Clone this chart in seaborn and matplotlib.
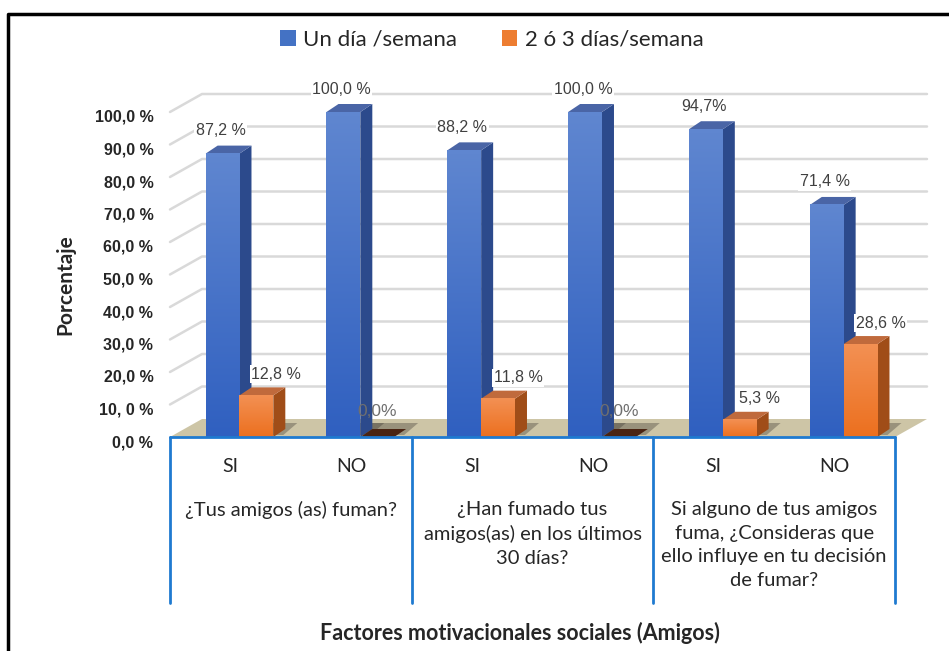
import numpy as np
import pandas as pd
import matplotlib
matplotlib.use("Agg")
import matplotlib.pyplot as plt
import matplotlib.transforms as mtrans
from matplotlib.patches import Polygon
from matplotlib.lines import Line2D
from matplotlib.colors import LinearSegmentedColormap
import seaborn as sns

# datos
preguntas = ["¿Tus amigos (as) fuman?",
             "¿Han fumado tus\namigos(as) en los últimos\n30 días?",
             "Si alguno de tus amigos\nfuma, ¿Consideras que\nello influye en tu decisión\nde fumar?"]
respuestas = ["SI", "NO", "SI", "NO", "SI", "NO"]
un_dia = [87.2, 100.0, 88.2, 100.0, 94.7, 71.4]
dos_tres = [12.8, 0.0, 11.8, 0.0, 5.3, 28.6]
etiq_un = ["87,2 %", "100,0 %", "88,2 %", "100,0 %", "94,7%", "71,4 %"]
etiq_dos = ["12,8 %", "0,0%", "11,8 %", "0,0%", "5,3 %", "28,6 %"]
series = ["Un día /semana", "2 ó 3 días/semana"]
yticks = [0, 10, 20, 30, 40, 50, 60, 70, 80, 90, 100]
ytick_lab = ["0,0 %", "10, 0 %", "20,0 %", "30,0 %", "40,0 %", "50,0 %",
             "60,0 %", "70,0 %", "80,0 %", "90,0 %", "100,0 %"]

claves = [f"{i}_{r}" for i, r in enumerate(respuestas)]
df = pd.DataFrame({
    "clave": claves * 2,
    "valor": un_dia + dos_tres,
    "serie": [series[0]] * 6 + [series[1]] * 6,
})

azul, naranja = "#4472c4", "#ed7d31"
sns.set_style("white")
plt.rcParams["font.family"] = ["Liberation Sans", "DejaVu Sans"]

fig = plt.figure(figsize=(9.49, 6.51), dpi=100)
W, H = 949, 651
ax = fig.add_axes([170 / W, (H - 437) / H, 725 / W, 325 / H])

sns.barplot(data=df, x="clave", y="valor", hue="serie", palette=[azul, naranja],
            width=0.56, saturation=1, ax=ax, zorder=3, linewidth=0)
handles, labels = ax.get_legend_handles_labels()
ax.get_legend().remove()
barras_azul = list(ax.containers[0])
barras_nar = list(ax.containers[1])

xlim = (-0.575, 5.425)
ax.set_xlim(*xlim)
ax.set_ylim(0, 100)
sns.despine(ax=ax, left=True, bottom=True)
ax.set_xlabel("")
ax.set_ylabel("")
ax.set_xticks([])
ax.set_yticks(yticks)
ax.set_yticklabels(ytick_lab, fontweight="bold", fontsize=11.5)
ax.tick_params(axis="y", length=0, pad=12)
for t in ax.get_yticklabels():
    t.set_transform(t.get_transform() + mtrans.ScaledTranslation(0, -4 / 100, fig.dpi_scale_trans))

fig.canvas.draw()
ident = mtrans.IdentityTransform()
to_px = ax.transData.transform

# pared del fondo: cuadrícula y suelo desplazados
fdx, fdy = 32, 18
for v in yticks[1:]:
    (xl, yv), (xr, _) = to_px([(xlim[0], v), (xlim[1], v)])
    ax.add_line(Line2D([xl, xl + fdx, xr + fdx], [yv, yv + fdy, yv + fdy],
                       transform=ident, color="#d9d9d9", lw=1.8, zorder=0.5, clip_on=False))
(xl, y0), (xr, _) = to_px([(xlim[0], 0), (xlim[1], 0)])
ax.add_patch(Polygon([(xl, y0), (xr, y0), (xr + fdx, y0 + fdy), (xl + fdx, y0 + fdy)],
                     closed=True, transform=ident, facecolor="#cdc5a6", edgecolor="none",
                     zorder=0.8, clip_on=False))

# barras con profundidad
bdx, bdy = 12, 8
caras = {azul: ("#4a65a6", "#2c4a8c", ["#3060c0", "#5f86d0"]),
         naranja: ("#c06a3c", "#a04d18", ["#ec701f", "#f39053"])}
for col, grupo in [(azul, barras_azul), (naranja, barras_nar)]:
    top_c, side_c, grad = caras[col]
    cmap = LinearSegmentedColormap.from_list("g", grad)
    for p in grupo:
        x0, w, h = p.get_x(), p.get_width(), p.get_height()
        (a, b), (c, d) = to_px([(x0, 0), (x0 + w, h)])
        # sombra en el suelo
        ax.add_patch(Polygon([(a + 4, b + 2), (c + 10, b + 2), (c + bdx + 12, b + bdy + 6),
                              (a + bdx, b + bdy + 6)],
                             closed=True, transform=ident, facecolor="#3a3530", alpha=0.35,
                             edgecolor="none", zorder=0.9, clip_on=False))
        if h <= 0:
            ax.add_patch(Polygon([(a, b), (c, b), (c + bdx, b + bdy), (a + bdx, b + bdy)],
                                 closed=True, transform=ident, facecolor="#4a2412",
                                 edgecolor="none", zorder=2.5, clip_on=False))
            continue
        ax.add_patch(Polygon([(c, b), (c, d), (c + bdx, d + bdy), (c + bdx, b + bdy)],
                             closed=True, transform=ident, facecolor=side_c, edgecolor="none",
                             zorder=2, clip_on=False))
        ax.add_patch(Polygon([(a, d), (c, d), (c + bdx, d + bdy), (a + bdx, d + bdy)],
                             closed=True, transform=ident, facecolor=top_c, edgecolor="none",
                             zorder=2, clip_on=False))
        ax.imshow(np.linspace(1, 0, 50).reshape(-1, 1), extent=[x0, x0 + w, 0, h],
                  aspect="auto", cmap=cmap, zorder=3.2, interpolation="bilinear")
ax.set_xlim(*xlim)
ax.set_ylim(0, 100)

# etiquetas de datos
caja = dict(facecolor="white", edgecolor="none", pad=1)
for k, p in enumerate(barras_azul):
    xc = p.get_x() + p.get_width() / 2
    ax.annotate(etiq_un[k], (xc, p.get_height()), xytext=(-2, 23), textcoords="offset pixels",
                ha="center", va="center", fontsize=11.5, color="#404040", bbox=caja, zorder=6)
for k, p in enumerate(barras_nar):
    xc = p.get_x() + p.get_width() / 2
    h = p.get_height()
    if h > 0:
        ax.annotate(etiq_dos[k], (xc, h), xytext=(20, 21), textcoords="offset pixels",
                    ha="center", va="center", fontsize=11.5, color="#404040", bbox=caja, zorder=6)
    else:
        ax.annotate(etiq_dos[k], (xc, h), xytext=(0, 25), textcoords="offset pixels",
                    ha="center", va="center", fontsize=12.5, color="#6f6f6f", zorder=6)

# tabla de categorías
azul_linea = "#1f7ad0"
fondo = -(603 - 437) / 325
ax.add_line(Line2D([0, 1], [0, 0], transform=ax.transAxes, color=azul_linea, lw=2,
                   clip_on=False, zorder=4))
for f in [0, 1 / 3, 2 / 3, 1]:
    ax.add_line(Line2D([f, f], [0, fondo], transform=ax.transAxes, color=azul_linea,
                       lw=2, clip_on=False, zorder=4))
fc = ["Lato", "DejaVu Sans"]
for i, r in enumerate(respuestas):
    ax.text((i + 0.5) / 6, -(467 - 437) / 325, r, transform=ax.transAxes, ha="center",
            va="center", fontsize=14, family=fc)
for g, q in enumerate(preguntas):
    ax.text((g + 0.5) / 3, -(501 - 437) / 325, q, transform=ax.transAxes, ha="center",
            va="top", fontsize=14.5, family=fc, linespacing=1.48)

fig.text(520 / W, 1 - 633 / H, "Factores motivacionales sociales (Amigos)", ha="center",
         va="center", fontsize=15.5, fontweight="bold", family=fc)
fig.text(65 / W, 1 - 285 / H, "Porcentaje", rotation=90, ha="center", va="center",
         fontsize=15, fontweight="bold", family=fc)

fig.legend(handles, labels, loc="center", bbox_to_anchor=(492 / W, 1 - 40 / H), ncol=2,
           frameon=False, handlelength=0.7, handleheight=0.7, handletextpad=0.35,
           columnspacing=2.0, prop={"family": fc, "size": 16})

# marco
fig.add_artist(Line2D([8 / W, 8 / W, 1], [0, 1 - 14 / H, 1 - 14 / H],
                      transform=fig.transFigure, color="black", lw=2.5))

fig.savefig("out.png", dpi=100)
